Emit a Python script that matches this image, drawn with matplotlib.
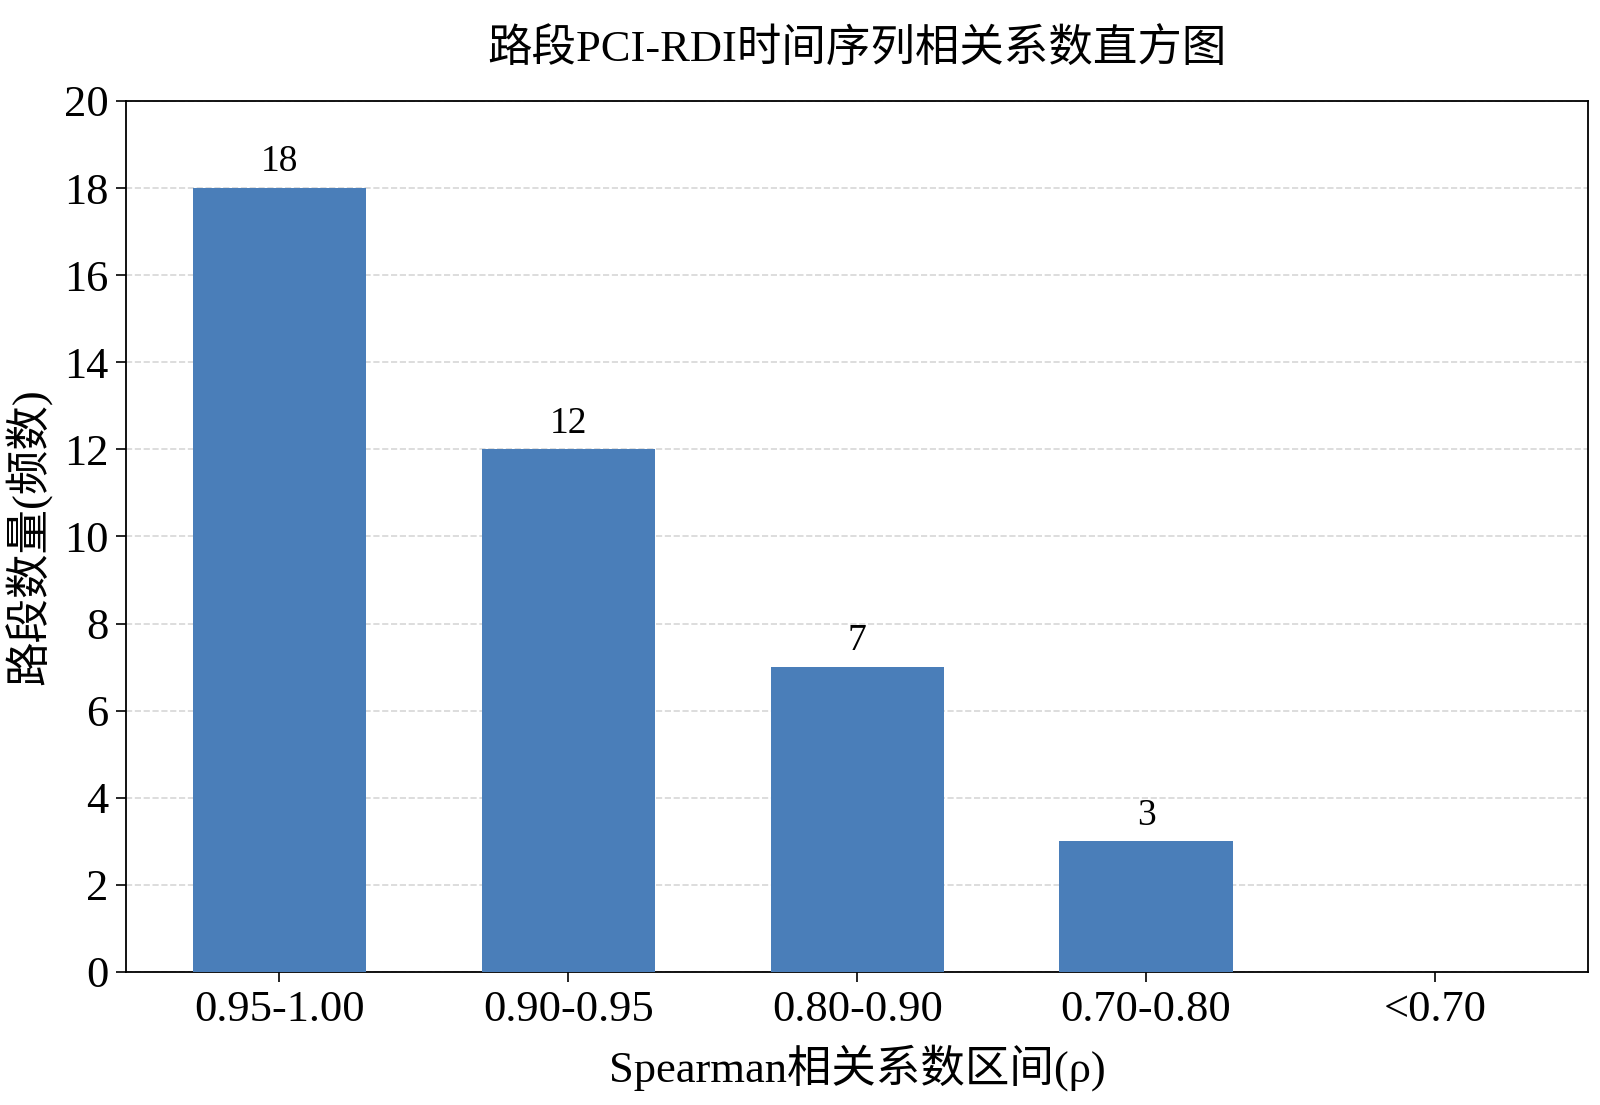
import matplotlib
matplotlib.use("Agg")
import matplotlib.pyplot as plt

plt.rcParams['font.family'] = ['Liberation Serif', 'Noto Sans CJK SC', 'DejaVu Sans']
plt.rcParams['axes.unicode_minus'] = False

# data
categories = ["0.95-1.00", "0.90-0.95", "0.80-0.90", "0.70-0.80", "<0.70"]
counts = [18, 12, 7, 3, 0]

fig = plt.figure(figsize=(16, 11.05), dpi=100)
ax = fig.add_axes([0.079, 0.1204, 0.9135, 0.7882])

x = range(len(categories))
bars = ax.bar(x, counts, width=0.6, color="#4a7eb9", zorder=3)
for b, v in zip(bars, counts):
    if v > 0:
        ax.text(b.get_x() + b.get_width() / 2, v + 0.2, str(v),
                ha="center", va="bottom", fontsize=27)

ax.set_xticks(list(x))
ax.set_xticklabels(categories)
ax.set_ylim(0, 20)
ax.set_yticks(range(0, 21, 2))
ax.tick_params(axis="both", labelsize=32, length=7, width=1.2, pad=6)
ax.grid(axis="y", linestyle="--", color="#cccccc", alpha=0.8, linewidth=1.2, zorder=0)
for s in ax.spines.values():
    s.set_linewidth(1.3)

ax.set_title("路段PCI-RDI时间序列相关系数直方图", fontsize=32, pad=28)
ax.set_xlabel("Spearman相关系数区间(ρ)", fontsize=32, labelpad=10)
ax.set_ylabel("路段数量(频数)", fontsize=32, labelpad=8)

fig.savefig("out.png", dpi=100)
